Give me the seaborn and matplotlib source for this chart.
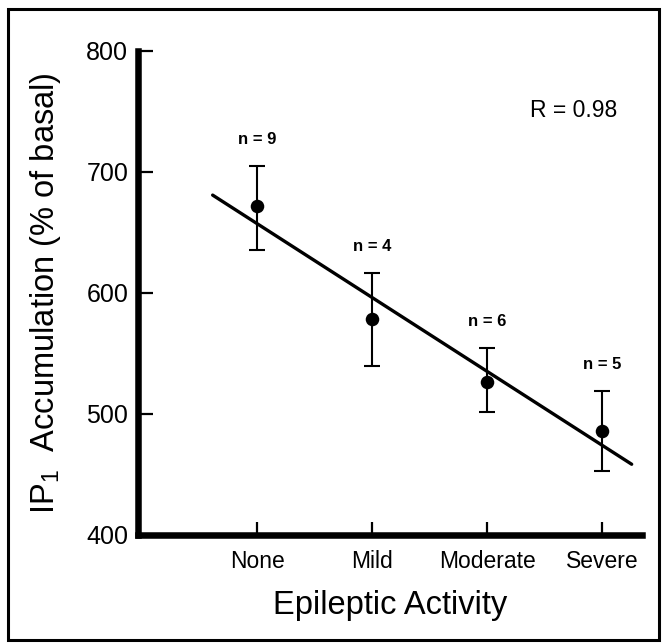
import numpy as np
import pandas as pd
import matplotlib
matplotlib.use("Agg")
import matplotlib.pyplot as plt
import seaborn as sns
from matplotlib.patches import Rectangle

# values
categories = ["None", "Mild", "Moderate", "Severe"]
means = [671.7, 578.4, 526.6, 485.9]
upper = [704.8, 616.7, 554.7, 519.2]
lower = [635.4, 539.8, 501.9, 453.1]
n_labels = ["n = 9", "n = 4", "n = 6", "n = 5"]
r_text = "R = 0.98"

sns.set_theme(style="ticks")
plt.rcParams["font.family"] = ["Liberation Sans", "DejaVu Sans"]
plt.rcParams["mathtext.fontset"] = "custom"
plt.rcParams["mathtext.rm"] = "Liberation Sans"
plt.rcParams["mathtext.it"] = "Liberation Sans:italic"
plt.rcParams["text.color"] = "black"
plt.rcParams["axes.labelcolor"] = "black"
plt.rcParams["xtick.color"] = "black"
plt.rcParams["ytick.color"] = "black"

df = pd.DataFrame({"pos": np.arange(len(categories)), "mean": means,
                   "hi": upper, "lo": lower, "n": n_labels})

fig = plt.figure(figsize=(6.62, 6.43), dpi=100)
ax = fig.add_axes([0.2085, 0.168, 0.7613, 0.753])

# error bars
err = [df["mean"] - df["lo"], df["hi"] - df["mean"]]
ax.errorbar(df["pos"], df["mean"], yerr=err, fmt="none", ecolor="black",
            elinewidth=1.5, capsize=6, capthick=1.5, zorder=2)

# points
sns.scatterplot(data=df, x="pos", y="mean", color="black", s=95,
                edgecolor="black", linewidth=0, ax=ax, zorder=3)

# least-squares line through the group means
slope, icpt = np.polyfit(df["pos"], df["mean"], 1)
line_x = np.array([-0.39, 3.26])
ax.plot(line_x, icpt + slope * line_x, color="black", lw=2.4, zorder=2)

for _, row in df.iterrows():
    ax.text(row["pos"], row["hi"] + 22, row["n"], ha="center", va="center",
            fontsize=12, fontweight="bold")

ax.text(2.75, 751, r_text, ha="center", va="center", fontsize=16.5)

ax.set_xlim(-1.04, 3.35)
ax.set_ylim(400, 800)
ax.set_yticks([400, 500, 600, 700, 800])
ax.set_xticks(df["pos"])
ax.set_xticklabels(categories)
ax.tick_params(axis="both", direction="in", width=1.6, color="black")
ax.tick_params(axis="x", length=9.5, pad=11, labelsize=16.5)
ax.tick_params(axis="y", length=10.5, pad=7, labelsize=18)

for side in ["top", "right"]:
    ax.spines[side].set_visible(False)
for side in ["left", "bottom"]:
    ax.spines[side].set_linewidth(4.7)
    ax.spines[side].set_color("black")
    ax.spines[side].set_capstyle("projecting")

ax.set_xlabel("Epileptic Activity", fontsize=23.5, labelpad=12)
ax.set_ylabel(r"IP$_1$  Accumulation (% of basal)", fontsize=23.5)
ax.yaxis.set_label_coords(-0.148, 0.5)

# frame around the whole figure
fig.patches.append(Rectangle((0.012, 0.004), 0.984, 0.982,
                             transform=fig.transFigure, fill=False,
                             edgecolor="black", lw=2.2))

fig.savefig("out.png", dpi=100, facecolor="white")
